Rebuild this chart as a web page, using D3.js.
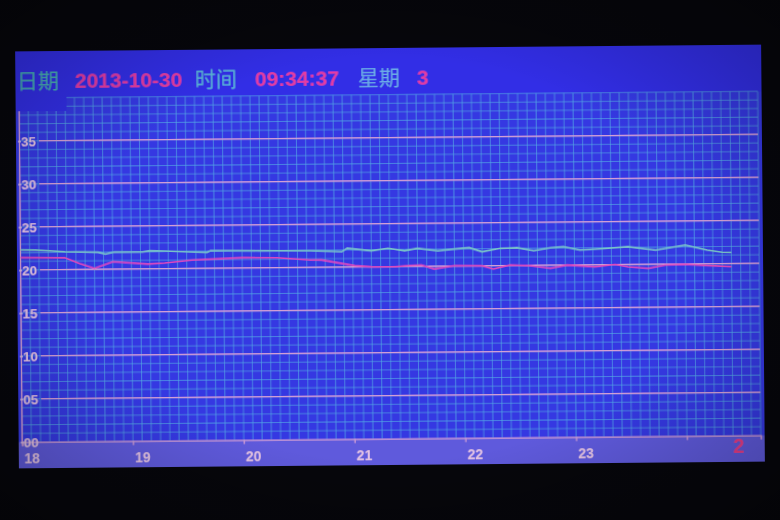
<!DOCTYPE html>
<html><head><meta charset="utf-8">
<script src="https://cdn.jsdelivr.net/npm/d3@7/dist/d3.min.js"></script>
<style>html,body{margin:0;padding:0;background:#05050a;}svg{display:block;}</style>
</head><body>
<svg id="c" width="780" height="520"></svg>
<script>
// ---- data ----
const headerLabels = ["日期", "时间", "星期"];
const headerValues = ["2013-10-30", "09:34:37", "3"];
const hourLabels = ["18", "19", "20", "21", "22", "23"];
const yTickValues = [0, 5, 10, 15, 20, 25, 30, 35];
const pageMark = "2";
// minutes after 18:00
const pinkT = [0,24,32,40,50,69,78,93,120,139,157,163,181,190,203,208,217,224,235,250,256,265,276,287,296,311,322,329,340,349,360,374,385];
const pinkV = [21.43,21.38,20.7,20.12,20.87,20.56,20.66,20.98,21.2,21.16,20.86,20.85,20.15,20.01,19.99,20.09,20.16,19.69,20.05,20.01,19.62,20.07,19.97,19.64,20.01,19.78,20.03,19.74,19.53,19.91,19.97,19.78,19.64];
const cyanT = [0,8,24,42,46,51,66,70,78,101,103,130,157,174,177,190,199,208,215,226,235,243,250,260,269,278,287,294,303,314,329,344,360,372,380,385];
const cyanV = [22.33,22.31,22.08,21.98,21.77,21.99,21.97,22.1,22.06,21.86,22.05,21.99,21.94,21.79,22.19,21.87,22.14,21.84,22.1,21.8,21.99,22.13,21.64,22.02,22.07,21.71,22.03,22.14,21.74,21.85,22.07,21.66,22.21,21.6,21.33,21.31];

// ---- drawing ----
const svg = d3.select("#c");
svg.append("rect").attr("width",780).attr("height",520).attr("fill","#06060b");
const defs = svg.append("defs");
defs.append("filter").attr("id","soft").append("feGaussianBlur").attr("stdDeviation",0.5);
const vg = defs.append("radialGradient").attr("id","vig").attr("cx","50%").attr("cy","50%").attr("r","70%");
vg.append("stop").attr("offset","55%").attr("stop-color","#000").attr("stop-opacity",0);
vg.append("stop").attr("offset","100%").attr("stop-color","#000").attr("stop-opacity",0.28);

const g = svg.append("g").attr("transform","rotate(-0.52,390,256)").attr("filter","url(#soft)");

const x = d3.scaleLinear().domain([0,400]).range([20.5,759.1]);
const y = d3.scaleLinear().domain([0,40]).range([438.7,94.7]);

const plotBg = "rgb(54,56,226)", headBg = "rgb(50,46,230)", bandBg = "rgb(94,90,220)";
const minorC = "rgba(86,176,228,0.6)", majorC = "rgb(212,160,212)", labelC = "rgb(228,196,228)";

// panel
g.append("rect").attr("x",17).attr("y",48).attr("width",746).attr("height",417).attr("fill",plotBg);
g.append("rect").attr("x",17).attr("y",48).attr("width",746).attr("height",y(40)-48).attr("fill",headBg);
g.append("rect").attr("x",17).attr("y",y(0)).attr("width",746).attr("height",465-y(0)).attr("fill",bandBg);

// minor grid
g.append("g").selectAll("line").data(d3.range(0,401,5)).join("line")
  .attr("x1",d=>x(d)).attr("x2",d=>x(d)).attr("y1",y(40)).attr("y2",y(0))
  .attr("stroke",minorC).attr("stroke-width",1);
g.append("g").selectAll("line").data(d3.range(1,41,1)).join("line")
  .attr("x1",x(0)).attr("x2",x(400)).attr("y1",d=>y(d)).attr("y2",d=>y(d))
  .attr("stroke",minorC).attr("stroke-width",1);

// header box top-left
g.append("rect").attr("x",17).attr("y",48).attr("width",51).attr("height",60).attr("fill",headBg);

// major lines
g.append("g").selectAll("line").data(yTickValues.filter(v=>v>0)).join("line")
  .attr("x1",40).attr("x2",x(400)).attr("y1",d=>y(d)).attr("y2",d=>y(d))
  .attr("stroke",majorC).attr("stroke-width",1.3);

// axes
const xAxis = d3.axisBottom(x).tickValues(d3.range(0,361,60)).tickSize(4)
  .tickFormat((d,i)=>hourLabels[i]||"");
const xa = g.append("g").attr("transform",`translate(0,${y(0)})`).call(xAxis);
xa.select(".domain").attr("stroke",majorC).attr("stroke-width",1.3);
xa.selectAll(".tick line").attr("stroke",majorC).attr("stroke-width",1.2);
xa.selectAll(".tick text").attr("fill",labelC).attr("text-anchor","start").attr("x",1.5).attr("y",21).attr("dy",0)
  .attr("font-family","Liberation Sans, Arial, sans-serif").attr("font-weight","bold").attr("font-size",14);

g.append("line").attr("x1",x(0)).attr("x2",x(0)).attr("y1",108).attr("y2",y(0)).attr("stroke",majorC).attr("stroke-width",1.3);
const yAxis = d3.axisRight(y).tickValues(yTickValues).tickSize(3).tickFormat(d3.format("02d"));
const ya = g.append("g").attr("transform",`translate(${x(0)-1.5},0)`).call(yAxis);
ya.select(".domain").remove();
ya.selectAll(".tick line").attr("stroke",labelC).attr("stroke-width",1.2);
ya.selectAll(".tick text").attr("fill",labelC).attr("x",3).attr("dy","0.36em")
  .attr("font-family","Liberation Sans, Arial, sans-serif").attr("font-weight","bold").attr("font-size",13.5);

// series
const line = d3.line().x(d=>x(d[0])).y(d=>y(d[1]));
g.append("path").datum(d3.zip(cyanT,cyanV)).attr("d",line).attr("fill","none")
  .attr("stroke","rgb(122,196,200)").attr("stroke-width",1.6);
g.append("path").datum(d3.zip(pinkT,pinkV)).attr("d",line).attr("fill","none")
  .attr("stroke","rgb(220,72,190)").attr("stroke-width",1.6);

// header text
const cjk = "Noto Sans CJK SC, sans-serif", lat = "Liberation Sans, Arial, sans-serif";
const labX = [18.5,196.5,359.5], valX = [76.5,256.5,418.5];
const labCol = ["rgb(72,176,180)","rgb(92,182,215)","rgb(108,172,230)"];
g.append("g").selectAll("text").data(headerLabels).join("text")
  .attr("x",(d,i)=>labX[i]).attr("y",85).attr("fill",(d,i)=>labCol[i])
  .attr("font-family",cjk).attr("font-size",21).text(d=>d);
g.append("g").selectAll("text").data(headerValues).join("text")
  .attr("x",(d,i)=>valX[i]).attr("y",85).attr("fill","rgb(226,62,162)")
  .attr("font-family",lat).attr("font-weight","bold").attr("font-size",21).text(d=>d);

// page mark
g.append("text").attr("x",737).attr("y",456).attr("text-anchor","middle").attr("fill","rgb(232,62,132)")
  .attr("font-family",lat).attr("font-weight","bold").attr("font-size",20).text(pageMark);

// photo vignette
svg.append("rect").attr("width",780).attr("height",520).attr("fill","url(#vig)").attr("pointer-events","none");
</script>
</body></html>
